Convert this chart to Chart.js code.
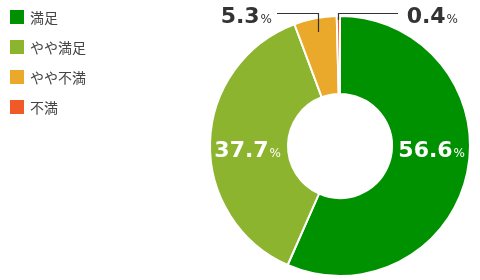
<!DOCTYPE html>
<html><head><meta charset="utf-8">
<script src="https://cdn.jsdelivr.net/npm/chart.js@4"></script>
<style>html,body{margin:0;padding:0;background:#fff;}#wrap{width:480px;height:280px;position:relative;}</style>
</head><body><div id="wrap"><canvas id="c" width="480" height="280"></canvas></div>
<script>
const categories = ['満足', 'やや満足', 'やや不満', '不満'];
const values = [56.6, 37.7, 5.3, 0.4];
const labelTexts = ['56.6', '37.7', '5.3', '0.4'];
const colors = ['#009100', '#8cb42e', '#eba92b', '#f05a28'];

const legendPlugin = {
  id: 'customLegend',
  afterDraw(chart) {
    const ctx = chart.ctx;
    ctx.save();
    categories.forEach((c, i) => {
      const y = 17 + i * 30;
      ctx.fillStyle = colors[i];
      ctx.fillRect(10, y - 7, 14, 14);
      ctx.fillStyle = '#444';
      ctx.font = '14px "Noto Sans CJK JP"';
      ctx.textBaseline = 'middle';
      ctx.textAlign = 'left';
      ctx.fillText(c, 30, y + 1);
    });
    ctx.restore();
  }
};

function drawValue(ctx, text, xRight, y, color) {
  const pctFont = '12px "DejaVu Sans", sans-serif';
  ctx.save();
  ctx.font = pctFont;
  const pw = ctx.measureText('%').width;
  ctx.restore();
  ctx.textBaseline = 'alphabetic';
  ctx.fillStyle = color;
  ctx.textAlign = 'right';
  ctx.font = 'bold 22px "DejaVu Sans", sans-serif';
  ctx.fillText(text, xRight - pw - 1, y);
  ctx.font = pctFont;
  ctx.fillText('%', xRight, y);
}

const labelPlugin = {
  id: 'arcLabels',
  afterDatasetsDraw(chart) {
    const ctx = chart.ctx;
    const meta = chart.getDatasetMeta(0);
    ctx.save();
    drawValue(ctx, labelTexts[0], 465, 157, '#fff');
    drawValue(ctx, labelTexts[1], 281, 157, '#fff');
    const a2 = meta.data[2], a3 = meta.data[3];
    const m2 = (a2.startAngle + a2.endAngle) / 2;
    const m3 = (a3.startAngle + a3.endAngle) / 2;
    const p2x = a2.x + Math.cos(m2) * (a2.outerRadius - 14);
    const p2y = a2.y + Math.sin(m2) * (a2.outerRadius - 14);
    const p3x = a3.x + Math.cos(m3) * a3.outerRadius;
    const p3y = a3.y + Math.sin(m3) * (a3.outerRadius - 4);
    ctx.strokeStyle = '#333';
    ctx.lineWidth = 1.2;
    ctx.beginPath();
    ctx.moveTo(277, 13.5); ctx.lineTo(Math.round(p2x) + 0.5, 13.5); ctx.lineTo(Math.round(p2x) + 0.5, p2y);
    ctx.stroke();
    ctx.beginPath();
    ctx.moveTo(398, 13.5); ctx.lineTo(Math.round(p3x) + 0.5, 13.5); ctx.lineTo(Math.round(p3x) + 0.5, p3y);
    ctx.stroke();
    drawValue(ctx, labelTexts[2], 272, 23, '#333');
    drawValue(ctx, labelTexts[3], 458, 23, '#333');
    ctx.restore();
  }
};

new Chart(document.getElementById('c'), {
  type: 'doughnut',
  data: {
    labels: categories,
    datasets: [{
      data: values,
      backgroundColor: colors,
      borderColor: '#fff',
      borderWidth: 2,
      hoverOffset: 0
    }]
  },
  options: {
    responsive: false,
    animation: false,
    cutout: '40%',
    layout: { padding: { left: 209, right: 9, top: 15, bottom: 3 } },
    plugins: { legend: { display: false }, tooltip: { enabled: false } }
  },
  plugins: [legendPlugin, labelPlugin]
});
</script></body></html>
